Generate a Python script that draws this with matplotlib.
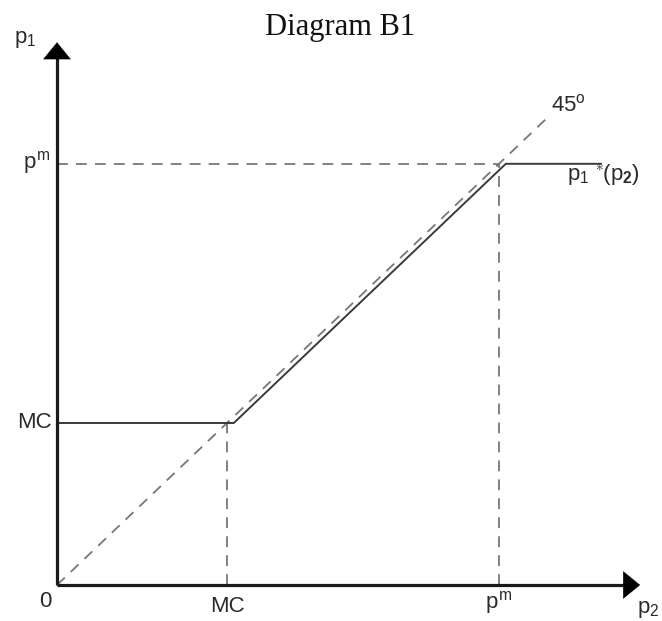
import matplotlib
matplotlib.use("Agg")
import matplotlib.pyplot as plt

# ---- data ----
mc = 1.0            # marginal cost
pm = 2.6            # monopoly price
eps = 0.04          # best response undercuts slightly
br_x = [0.0, mc + eps, pm + eps, 3.2]   # best-response p1*(p2) breakpoints (p2)
br_y = [mc, mc, pm, pm]                 # corresponding p1
diag_end = 2.9                          # extent of 45 degree line
x_max, y_max = 3.43, 3.35               # axis arrow tips

plt.rcParams['mathtext.fontset'] = 'custom'
plt.rcParams['mathtext.rm'] = 'Liberation Sans'
plt.rcParams['mathtext.it'] = 'Liberation Sans'
plt.rcParams['mathtext.bf'] = 'Liberation Sans:bold'
plt.rcParams['font.family'] = ['Liberation Sans', 'DejaVu Sans']

fig = plt.figure(figsize=(6.62, 6.21), dpi=100)
ax = fig.add_axes([0, 0, 1, 1])
ax.set_xlim(-57 / 170, 605 / 170)
ax.set_ylim(-36 / 162, 585 / 162)
ax.axis('off')

dash_col = '#777777'
line_col = '#3a3a3a'
txt_col = '#2a2a2a'

# 45 degree line
ax.plot([0, diag_end], [0, diag_end], color=dash_col, lw=1.3, dashes=(6, 4.5))
# guide lines
ax.plot([0, pm], [pm, pm], color=dash_col, lw=1.3, dashes=(6, 4.5))
ax.plot([mc, mc], [0, mc], color=dash_col, lw=1.3, dashes=(6, 4.5))
ax.plot([pm, pm], [0, pm], color=dash_col, lw=1.3, dashes=(6, 4.5))
# best response
ax.plot(br_x, br_y, color=line_col, lw=1.4, solid_joinstyle='miter')

# axes with arrows
ax.plot([0, 0], [0, y_max - 0.06], color='#1a1a1a', lw=2.3, solid_capstyle='butt')
ax.plot([0, x_max - 0.06], [0, 0], color='#1a1a1a', lw=2.3, solid_capstyle='butt')
ap = dict(arrowstyle='-|>,head_length=0.55,head_width=0.45', color='black',
          lw=0.1, mutation_scale=22, shrinkA=0, shrinkB=0)
ax.annotate('', xy=(0, y_max), xytext=(0, y_max - 0.1), arrowprops=ap)
ax.annotate('', xy=(x_max, 0), xytext=(x_max - 0.1, 0), arrowprops=ap)

fs = 16
ax.text(-0.19, 3.37, '$p_1$', fontsize=fs, color=txt_col, ha='center', va='center')
ax.text(3.48, -0.15, '$p_2$', fontsize=fs, color=txt_col, ha='center', va='center')
ax.text(-0.03, mc, 'MC', fontsize=fs, color=txt_col, ha='right', va='center')
ax.text(-0.04, pm + 0.01, '$p^m$', fontsize=fs, color=txt_col, ha='right', va='center')
ax.text(-0.07, -0.1, '0', fontsize=fs, color=txt_col, ha='center', va='center')
ax.text(mc, -0.13, 'MC', fontsize=fs, color=txt_col, ha='center', va='center')
ax.text(pm, -0.11, '$p^m$', fontsize=fs, color=txt_col, ha='center', va='center')
ax.text(3.01, 2.96, '45$^o$', fontsize=fs, color=txt_col, ha='center', va='center')
ax.text(3.0, 2.53, r'$p_1{}^{\;\ast}\!(p_{\mathbf{2}})$', fontsize=fs, color=txt_col,
        ha='left', va='center')

fig.text(340 / 662, 1 - 27 / 621, 'Diagram B1', fontsize=22,
         family=['Liberation Serif', 'DejaVu Serif'], color='#111111',
         ha='center', va='center')

fig.savefig('out.png', dpi=100)
